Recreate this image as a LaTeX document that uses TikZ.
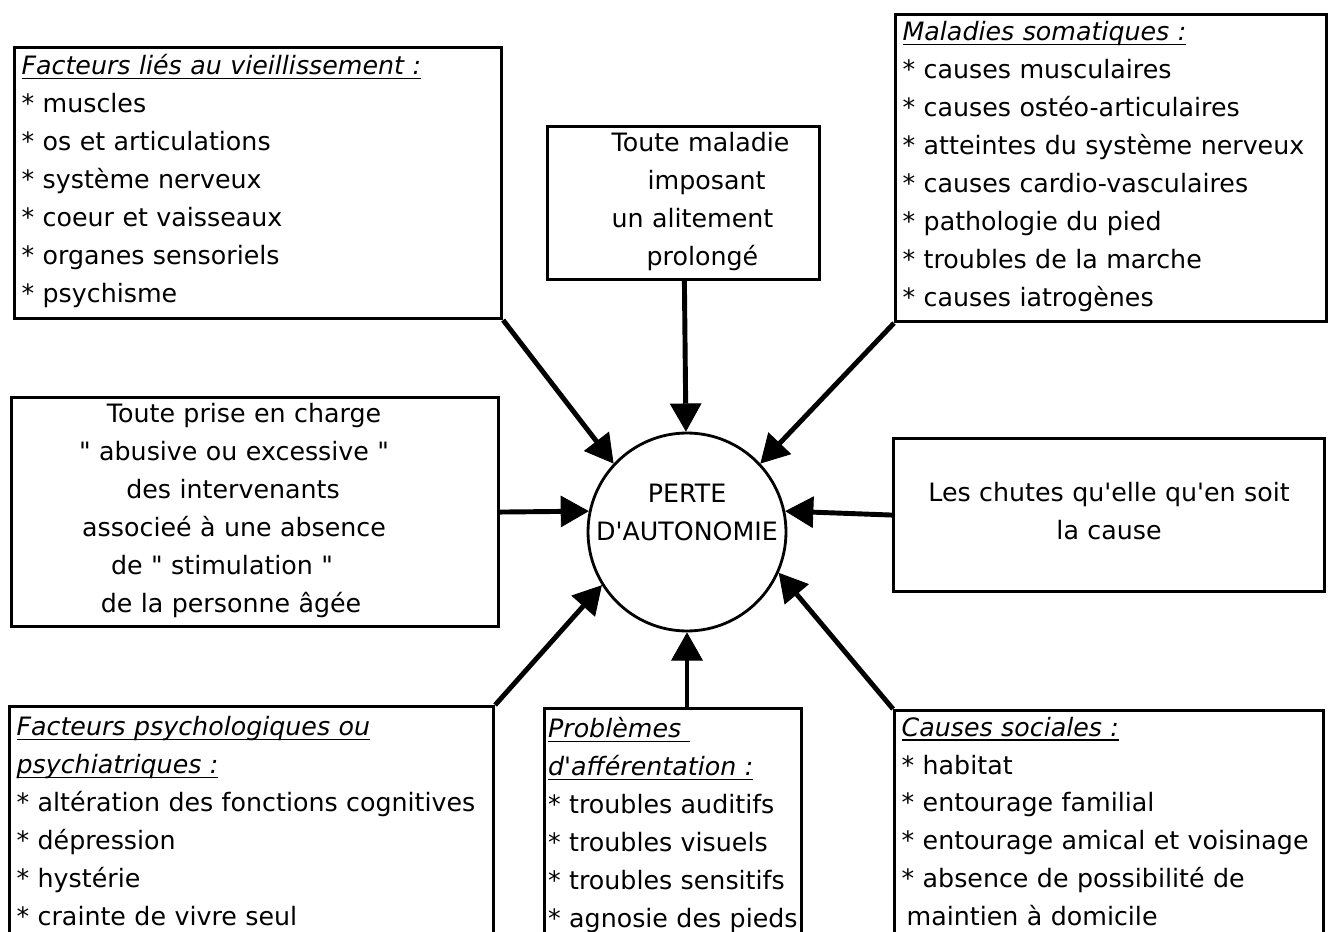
\documentclass[tikz,border=0pt]{standalone}
\usepackage{fontspec}
\setmainfont{DejaVu Sans}[Ligatures=TeXOff]
\usepackage{tikz}
\usetikzlibrary{arrows.meta,positioning}
\newcommand{\boxstrut}{\rule[-7.6pt]{0pt}{21.6pt}}
\newcommand{\titre}[1]{\leavevmode\setbox0\hbox{\textit{#1}}\rlap{\rule[-2.6pt]{\wd0}{0.8pt}}\box0}
\newcommand{\decale}[1]{\hspace*{#1}\null}
\tikzstyle{causebox} = [rectangle, draw, line width=1.8pt, anchor=north west, inner xsep=4pt, inner ysep=0pt, font=\fontsize{14.4}{21.6}\selectfont, execute at begin node=\boxstrut, execute at end node=\boxstrut]
\tikzstyle{listbox} = [causebox, align=left]
\tikzstyle{textbox} = [causebox, align=center]
\tikzstyle{centre} = [circle, draw, line width=1.6pt, minimum size=3.96cm, inner sep=-6pt, align=center, font=\fontsize{14.4}{21.6}\selectfont, execute at begin node=\boxstrut, execute at end node={\rule[-3pt]{0pt}{3pt}}]
\tikzstyle{arrow} = [line width=2.8pt, -{Triangle[length=16pt,width=18pt,line width=0.5pt]}]

\begin{document}
\begin{tikzpicture}[x=0.02cm, y=-0.02cm]
\useasboundingbox (0,0) rectangle (1332,932);
\clip (0,0) rectangle (1332,932);
\node (vieillissement) [listbox, text width=9.46cm, minimum height=5.42cm] at (13,46) {\titre{Facteurs liés au vieillissement :}\\{*} muscles\\{*} os et articulations\\{*} système nerveux\\{*} coeur et vaisseaux\\{*} organes sensoriels\\{*} psychisme};
\node (alitement) [listbox, text width=5.16cm, minimum height=3.06cm] at (546,125) {\hspace*{1.14cm}Toute maladie\\\hspace*{1.86cm}imposant\\\hspace*{1.14cm}un alitement\\\hspace*{1.84cm}prolongé};
\node (somatiques) [listbox, text width=8.34cm, minimum height=6.14cm] at (894,13) {\titre{Maladies somatiques :}\\{*} causes musculaires\\{*} causes ostéo-articulaires\\{*} atteintes du système nerveux\\{*} causes cardio-vasculaires\\{*} pathologie du pied\\{*} troubles de la marche\\{*} causes iatrogènes};
\node (priseencharge) [textbox, text width=9.46cm, minimum height=4.58cm] at (10,396) {Toute prise en charge\decale{0.44cm}\\" abusive ou excessive "\decale{0.84cm}\\des intervenants\decale{0.88cm}\\associeé à une absence\decale{0.84cm}\\de " stimulation "\decale{1.32cm}\\de la personne âgée\decale{0.96cm}};
\node (chutes) [textbox, text width=8.34cm, minimum height=3.06cm] at (892,437) {Les chutes qu'elle qu'en soit\\la cause};
\node (psychologiques) [listbox, text width=9.40cm, inner ysep=2.5pt] at (8,705) {\titre{Facteurs psychologiques ou}\\\titre{psychiatriques :}\\{*} altération des fonctions cognitives\\{*} dépression\\{*} hystérie\\{*} crainte de vivre seul};
\node (afferentation) [listbox, text width=5.0cm, inner xsep=2pt, inner ysep=2.5pt] at (543,707) {\titre{Problèmes }\\\titre{d'afférentation :}\\{*} troubles auditifs\\{*} troubles visuels\\{*} troubles sensitifs\\{*} agnosie des pieds};
\node (sociales) [listbox, text width=8.30cm, inner ysep=0.5pt] at (893,709) {\titre{Causes sociales :}\\{*} habitat\\{*} entourage familial\\{*} entourage amical et voisinage\\{*} absence de possibilité de\\\hspace*{0.2em}maintien à domicile};
\node (perte) [centre] at (687,532) {PERTE\\D'AUTONOMIE\\[-7pt]};
\draw [arrow] (vieillissement.south east) -- (perte.137);
\draw [arrow] (alitement) -- (perte);
\draw [arrow] (somatiques.south west) -- (perte.43);
\draw [arrow] (priseencharge.east) -- (perte.168);
\draw [arrow] (chutes.west) -- (perte.12);
\draw [arrow] (psychologiques.north east) -- (perte.212);
\draw [arrow] (perte.south |- afferentation.north) -- (perte.south);
\draw [arrow] (sociales.north west) -- (perte.-24);
\end{tikzpicture}
\end{document}
